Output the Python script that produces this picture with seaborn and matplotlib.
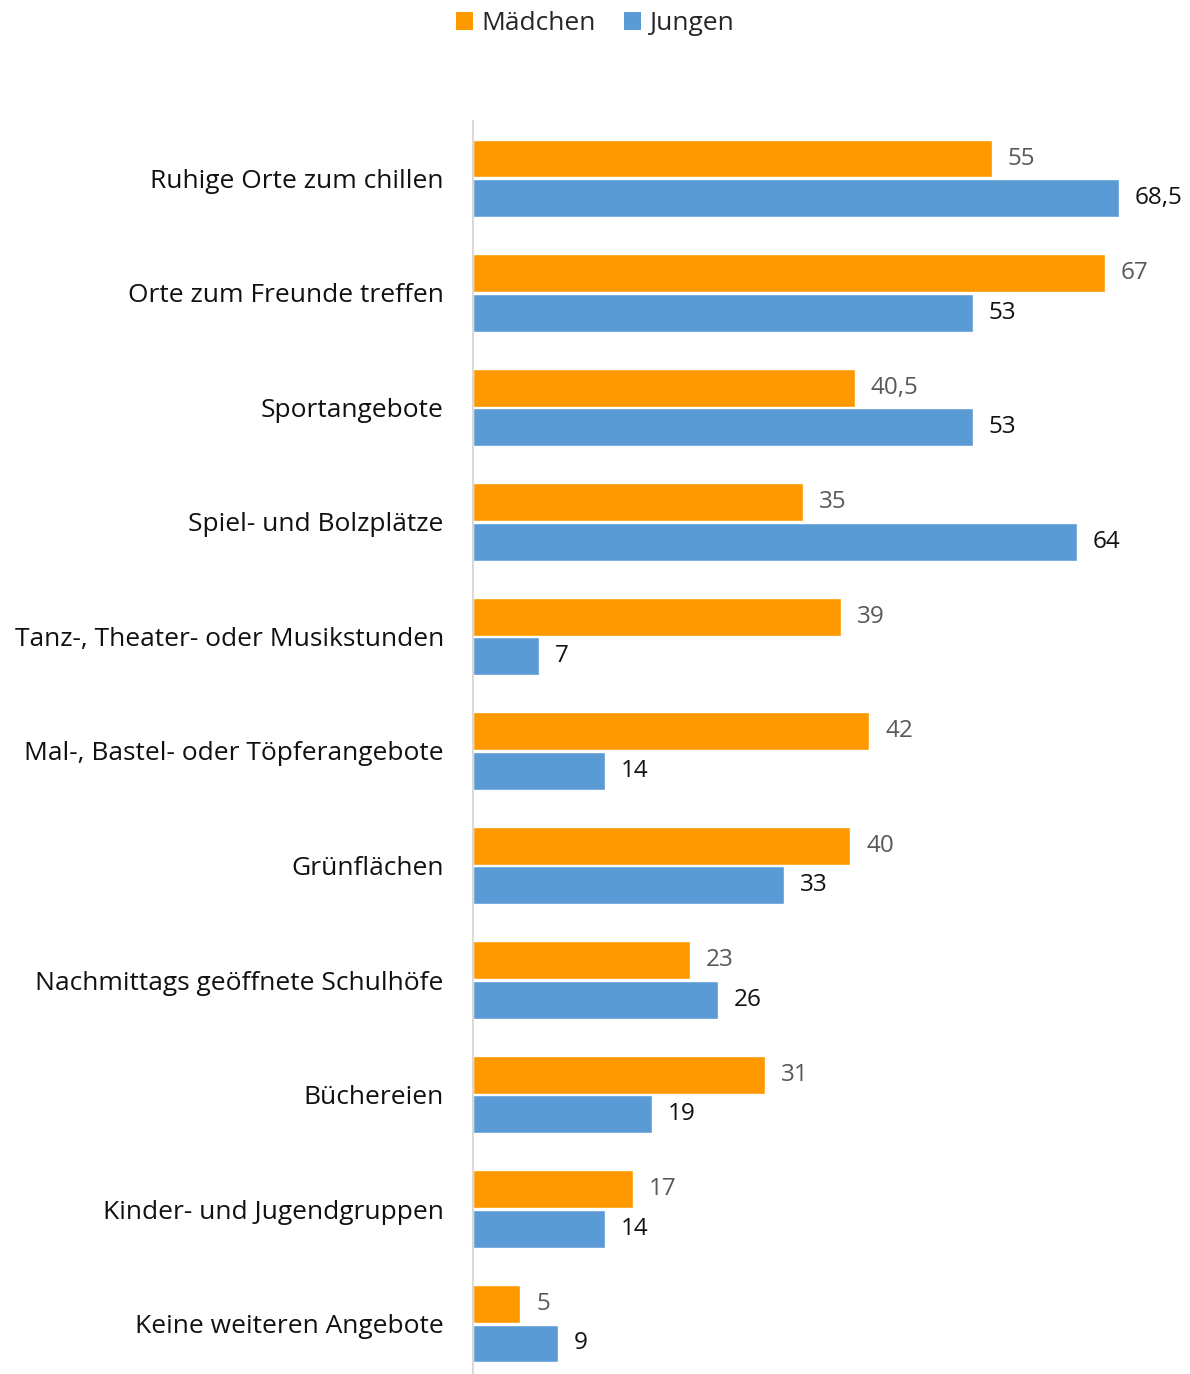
import matplotlib
matplotlib.use("Agg")
import matplotlib.pyplot as plt
from matplotlib.patches import Patch
import pandas as pd
import seaborn as sns

categories = [
    "Ruhige Orte zum chillen",
    "Orte zum Freunde treffen",
    "Sportangebote",
    "Spiel- und Bolzplätze",
    "Tanz-, Theater- oder Musikstunden",
    "Mal-, Bastel- oder Töpferangebote",
    "Grünflächen",
    "Nachmittags geöffnete Schulhöfe",
    "Büchereien",
    "Kinder- und Jugendgruppen",
    "Keine weiteren Angebote",
]
maedchen = [55, 67, 40.5, 35, 39, 42, 40, 23, 31, 17, 5]
jungen = [68.5, 53, 53, 64, 7, 14, 33, 26, 19, 14, 9]
series_names = ["Mädchen", "Jungen"]
colors = ["#FF9900", "#5B9BD5"]
label_colors = ["#595959", "#111111"]

sns.set_theme(style="white")
plt.rcParams["font.family"] = ["Open Sans", "DejaVu Sans"]

df = pd.DataFrame({
    "Kategorie": categories * 2,
    "Wert": maedchen + jungen,
    "Gruppe": [series_names[0]] * len(categories) + [series_names[1]] * len(categories),
})

W, H = 1190, 1374
fig = plt.figure(figsize=(W / 100, H / 100), dpi=100)
ax_left = 473 / W
ax_top = 1 - 121 / H
ax_bottom = 1 - 1381 / H
ax = fig.add_axes([ax_left, ax_bottom, 1 - ax_left, ax_top - ax_bottom])

sns.barplot(
    data=df, y="Kategorie", x="Wert", hue="Gruppe",
    order=categories, hue_order=series_names,
    palette=colors, width=0.69, gap=0.04, orient="h",
    legend=False, ax=ax, saturation=1,
)

ax.set_xlim(0, (W - 473) / 9.43)
ax.set_ylim(len(categories) - 0.5, -0.5)
ax.set_xlabel("")
ax.set_ylabel("")
ax.set_xticks([])
ax.tick_params(axis="y", length=0, pad=21, labelsize=19, labelcolor="#111111")
for s in ["top", "right", "bottom"]:
    ax.spines[s].set_visible(False)
ax.spines["left"].set_color("#D9D9D9")
ax.spines["left"].set_linewidth(1.5)

def fmt(v):
    return (f"{v:g}").replace(".", ",")

for container, lc in zip(ax.containers, label_colors):
    ax.bar_label(container, labels=[fmt(v) for v in container.datavalues],
                 padding=11.5, fontsize=17.5, color=lc)

handles = [Patch(facecolor=c, edgecolor="none") for c in colors]
fig.legend(handles, series_names, loc="upper center", bbox_to_anchor=(0.5, 1.009),
           ncol=2, frameon=False, fontsize=19, handlelength=0.65, handleheight=0.65,
           handletextpad=0.3, columnspacing=1.1)

fig.savefig("out.png", dpi=100)
